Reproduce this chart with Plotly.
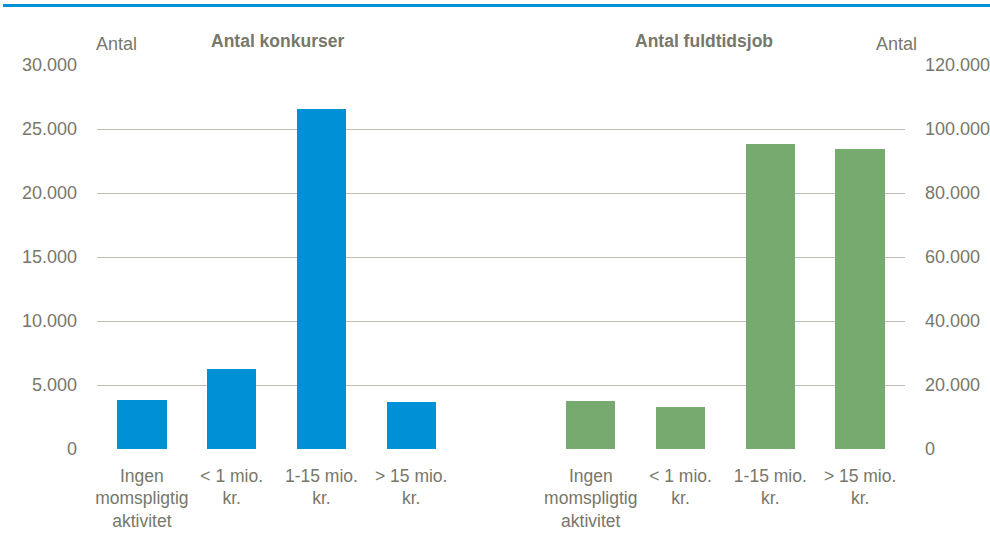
import plotly.graph_objects as go

categories = ["Ingen<br>momspligtig<br>aktivitet", "< 1 mio.<br>kr.", "1-15 mio.<br>kr.", "> 15 mio.<br>kr."]
konkurser = [3800, 6250, 26600, 3650]
fuldtidsjob = [15000, 13100, 95300, 93700]
left_ticks = [0, 5000, 10000, 15000, 20000, 25000, 30000]
right_ticks = [0, 20000, 40000, 60000, 80000, 100000, 120000]

left_pos = [0, 1, 2, 3]
right_pos = [5, 6, 7, 8]

FONT = "Liberation Sans, Arial, sans-serif"
GREY = "#77776a"

def fmt(v):
    return f"{v:,}".replace(",", ".")

fig = go.Figure()
fig.add_trace(go.Bar(x=left_pos, y=konkurser, width=0.55, marker=dict(color="#0090d5", line=dict(width=0)),
                     yaxis="y", showlegend=False, hoverinfo="skip"))
fig.add_trace(go.Bar(x=right_pos, y=fuldtidsjob, width=0.55, marker=dict(color="#76aa6e", line=dict(width=0)),
                     yaxis="y2", showlegend=False, hoverinfo="skip"))

fig.update_layout(
    width=990, height=537,
    margin=dict(l=97, r=85, t=65, b=88, autoexpand=False),
    paper_bgcolor="white", plot_bgcolor="white",
    font=dict(family=FONT, color=GREY, size=18),
    xaxis=dict(range=[-0.5, 8.5], tickvals=left_pos + right_pos, ticktext=categories + categories,
               showgrid=False, zeroline=False, showline=False, ticks="", tickfont=dict(size=17.5),
               ticklabelstandoff=14),
    yaxis=dict(range=[0, 30000], tickvals=left_ticks, ticktext=[fmt(v) for v in left_ticks],
               showgrid=True, gridcolor="#bfbdb3", gridwidth=1.3, zeroline=False, showline=False,
               ticks="", ticklabelstandoff=19),
    yaxis2=dict(range=[0, 120000], tickvals=right_ticks, ticktext=[fmt(v) for v in right_ticks],
                overlaying="y", side="right", showgrid=False, zeroline=False, showline=False,
                ticks="", ticklabelstandoff=19),
    bargap=0,
)

W = 808.0
def px_x(p):
    return (p - 97) / W
def px_y(p):
    return (449 - p) / 384.0

fig.add_annotation(text="<b>Antal konkurser</b>", x=px_x(277), y=px_y(41.5), xref="paper", yref="paper",
                   showarrow=False, xanchor="center", yanchor="middle", font=dict(size=17.5, color=GREY))
fig.add_annotation(text="<b>Antal fuldtidsjob</b>", x=px_x(704), y=px_y(41.5), xref="paper", yref="paper",
                   showarrow=False, xanchor="center", yanchor="middle", font=dict(size=17.5, color=GREY))
fig.add_annotation(text="Antal", x=px_x(116), y=px_y(44), xref="paper", yref="paper",
                   showarrow=False, xanchor="center", yanchor="middle", font=dict(size=18, color=GREY))
fig.add_annotation(text="Antal", x=px_x(896), y=px_y(44), xref="paper", yref="paper",
                   showarrow=False, xanchor="center", yanchor="middle", font=dict(size=18, color=GREY))

fig.add_shape(type="line", xref="paper", yref="paper", x0=px_x(3), x1=px_x(990), y0=px_y(5.5), y1=px_y(5.5),
              line=dict(color="#0090d5", width=3))

fig.write_html("out.html", config={"displayModeBar": False},
               post_script="document.body.style.margin='0';document.body.style.overflow='hidden';")
